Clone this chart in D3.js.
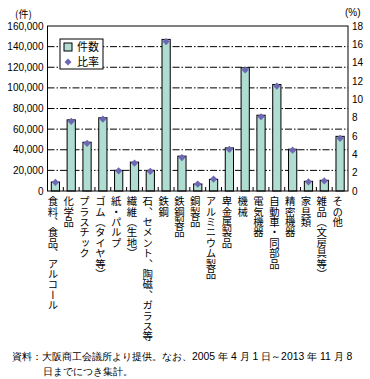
<!DOCTYPE html>
<html lang="ja">
<head>
<meta charset="UTF-8">
<script src="https://d3js.org/d3.v7.min.js"></script>
<style>
  body { margin: 0; background: #fff; }
  svg text { font-family: "Liberation Sans", Arial, sans-serif; fill: #000; }
  .jp { font-family: "Noto Sans CJK JP", sans-serif; }
  .vlabel { writing-mode: vertical-rl; font-family: "Noto Sans CJK JP", sans-serif; font-size: 10.4px; }
</style>
</head>
<body>
<svg id="chart"></svg>
<script>
const categories = ["食料、食品、アルコール", "化学品", "プラスチック", "ゴム（タイヤ等）", "紙・パルプ",
  "繊維（生地）", "石、セメント、陶磁、ガラス等", "鉄鋼", "鉄鋼製品", "銅製品", "アルミニウム製品",
  "卑金属製品", "機械", "電気機器", "自動車・同部品", "精密機器", "家具類", "雑品（文房具等）", "その他"];
const counts = [8700, 69000, 47300, 71000, 20000, 28000, 20000, 147000, 33800, 6800, 11300,
  41800, 119500, 73500, 103300, 40500, 9400, 10400, 53000];
const ratios = [0.95, 7.6, 5.2, 7.85, 2.2, 3.05, 2.15, 16.3, 3.65, 0.75, 1.3,
  4.55, 13.2, 8.1, 11.45, 4.45, 1.0, 1.1, 5.75];
const countTicks = d3.range(0, 160001, 20000);
const ratioTicks = d3.range(0, 19, 2);
const legendNames = ["件数", "比率"];

const width = 370, height = 379;
const mLeft = 47.5, mRight = 348, mTop = 26, mBottom = 191;

const svg = d3.select("#chart").attr("width", width).attr("height", height);

const x = d3.scaleBand().domain(categories).range([mLeft, mRight]).paddingInner(0.48).paddingOuter(0.24);
const yCount = d3.scaleLinear().domain([0, 160000]).range([mBottom, mTop]);
const yRatio = d3.scaleLinear().domain([0, 18]).range([mBottom, mTop]);

// grid lines (dash-dot)
svg.append("g").selectAll("line")
  .data(countTicks.filter(d => d > 0 && d < 160000))
  .enter().append("line")
  .attr("x1", mLeft).attr("x2", mRight)
  .attr("y1", d => yCount(d)).attr("y2", d => yCount(d))
  .attr("stroke", "#000").attr("stroke-width", 1)
  .attr("stroke-dasharray", "7,2,1.5,2");

// legend box (covers grid)
const lg = svg.append("g").attr("transform", "translate(60,39)");
lg.append("rect").attr("width", 43).attr("height", 30)
  .attr("fill", "#fff").attr("stroke", "#000").attr("stroke-width", 1);
lg.append("rect").attr("x", 4).attr("y", 4).attr("width", 8).attr("height", 8)
  .attr("fill", "#b0ddd2").attr("stroke", "#000").attr("stroke-width", 1);
lg.append("path").attr("d", d3.symbol(d3.symbolSquare, 24)())
  .attr("transform", "translate(8,23) rotate(45)").attr("fill", "#6d67b5");
lg.selectAll("text.lt").data(legendNames).enter().append("text")
  .attr("class", "jp").attr("x", 17).attr("y", (d, i) => 12 + i * 15)
  .attr("font-size", 11).text(d => d);

// bars
svg.append("g").selectAll("rect")
  .data(categories)
  .enter().append("rect")
  .attr("x", d => x(d))
  .attr("width", x.bandwidth())
  .attr("y", (d, i) => yCount(counts[i]))
  .attr("height", (d, i) => mBottom - yCount(counts[i]))
  .attr("fill", "#b0ddd2").attr("stroke", "#000").attr("stroke-width", 1);

// frame
svg.append("rect").attr("x", mLeft).attr("y", mTop)
  .attr("width", mRight - mLeft).attr("height", mBottom - mTop)
  .attr("fill", "none").attr("stroke", "#000").attr("stroke-width", 1);

// category boundary ticks
svg.append("g").selectAll("line")
  .data(d3.range(1, categories.length))
  .enter().append("line")
  .attr("x1", i => mLeft + i * (mRight - mLeft) / categories.length)
  .attr("x2", i => mLeft + i * (mRight - mLeft) / categories.length)
  .attr("y1", mBottom).attr("y2", mBottom - 4)
  .attr("stroke", "#000").attr("stroke-width", 1);

// ratio diamonds
svg.append("g").selectAll("path")
  .data(categories)
  .enter().append("path")
  .attr("d", d3.symbol(d3.symbolSquare, 26)())
  .attr("transform", (d, i) => `translate(${x(d) + x.bandwidth() / 2},${yRatio(ratios[i])}) rotate(45)`)
  .attr("fill", "#6d67b5");

// left axis labels
svg.append("g").selectAll("text")
  .data(countTicks).enter().append("text")
  .attr("x", mLeft - 4).attr("y", d => yCount(d) + 3.5)
  .attr("text-anchor", "end").attr("font-size", 10)
  .text(d => d3.format(",")(d));

// right axis labels
svg.append("g").selectAll("text")
  .data(ratioTicks).enter().append("text")
  .attr("x", mRight + 4).attr("y", d => yRatio(d) + 3.5)
  .attr("font-size", 10)
  .text(d => d);

svg.append("text").attr("class", "jp").attr("x", 15).attr("y", 18).attr("font-size", 10).text("(件)");
svg.append("text").attr("x", 345).attr("y", 16).attr("font-size", 10).text("(%)");

// vertical category labels
svg.append("g").selectAll("text")
  .data(categories).enter().append("text")
  .attr("class", "vlabel")
  .attr("x", d => x(d) + x.bandwidth() / 2 - 2.5)
  .attr("y", 196)
  .text(d => d);

// source note
const note = svg.append("g").attr("class", "jp").attr("font-size", 10.4);
note.append("text").attr("x", 12).attr("y", 360)
  .text("資料：大阪商工会議所より提供。なお、2005 年 4 月 1 日～2013 年 11 月 8");
note.append("text").attr("x", 43).attr("y", 375)
  .text("日までにつき集計。");
</script>
</body>
</html>
